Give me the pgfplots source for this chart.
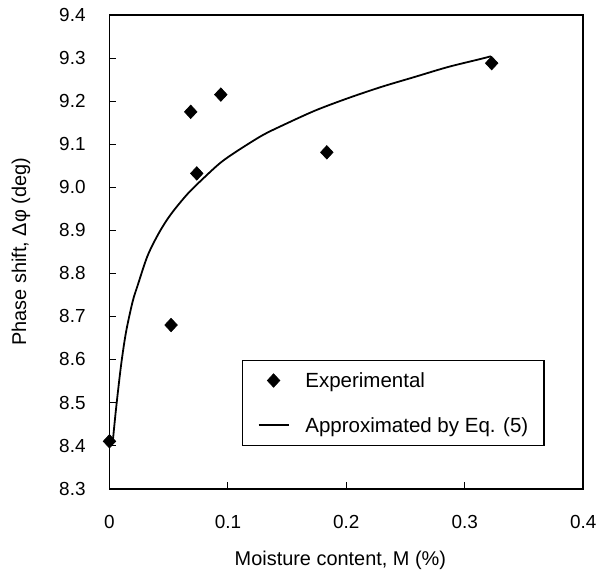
\documentclass[border=0pt]{standalone}
\usepackage{fontspec}
\setmainfont{Liberation Sans}
\usepackage{pgfplots}
\pgfplotsset{compat=1.18}
\pgfplotsset{
  markleg/.style={legend image code/.code={\path (0pt,0pt) (15pt,0pt); \draw[##1] plot coordinates {(7.5pt,0pt)};}},
  lineleg/.style={legend image code/.code={\draw[##1] (0pt,0pt) -- (15pt,0pt);}},
}
\begin{document}
\begin{tikzpicture}
\begin{axis}[
  scale only axis, width=238pt, height=238pt,
  xmin=0, xmax=0.4, ymin=8.3, ymax=9.4,
  axis line style={line width=0.9pt},
  tick align=inside, tick pos=left,
  major tick length=3.5pt,
  tick style={line width=0.5pt, black},
  xtick={0,0.1,0.2,0.3,0.4},
  xticklabels={0,0.1,0.2,0.3,0.4},
  ytick={8.3,8.4,8.5,8.6,8.7,8.8,8.9,9.0,9.1,9.2,9.3,9.4},
  yticklabels={8.3,8.4,8.5,8.6,8.7,8.8,8.9,9.0,9.1,9.2,9.3,9.4},
  /pgf/number format/assume math mode=true,
  tick label style={font=\fontsize{9.5pt}{11pt}\selectfont},
  xticklabel style={anchor=center, yshift=-16.5pt},
  yticklabel style={anchor=east, xshift=-8.5pt},
  xlabel={Moisture content, M (\%)},
  ylabel={Phase shift, Δφ (deg)},
  label style={font=\fontsize{10.1pt}{12pt}\selectfont},
  every axis x label/.style={at={(axis description cs:0.4874,-0.151)}, anchor=center},
  every axis y label/.style={at={(axis description cs:-0.187,0.5)}, anchor=center, rotate=90},
  legend cell align=left,
  legend style={at={(axis cs:0.1115,8.599)}, anchor=north west, draw=black, line width=0.7pt,
    font=\fontsize{10.3pt}{12pt}\selectfont, inner xsep=7.8pt, inner ysep=5pt,
    row sep=12.5pt, column sep=8pt,
    nodes={inner sep=0pt, text height=8.7pt, text depth=1.3pt}},
]
\addplot[only marks, mark=diamond*, mark size=3.4pt, mark options={xscale=1.24, fill=black, draw=black, line width=0.3pt}, markleg]
  coordinates {(0,8.41) (0.052,8.68) (0.0686,9.175) (0.0737,9.032) (0.094,9.215) (0.1835,9.081) (0.3227,9.288)};
\addlegendentry{Experimental}
\addplot[black, line width=0.9pt, smooth, no marks, lineleg]
  coordinates {(0.0028,8.410) (0.0056,8.487) (0.0098,8.587) (0.0140,8.664) (0.0196,8.735) (0.0238,8.772)
  (0.0322,8.841) (0.0420,8.895) (0.0518,8.937) (0.0658,8.984) (0.0798,9.022) (0.0938,9.057)
  (0.1078,9.084) (0.1288,9.120) (0.1457,9.143) (0.1737,9.178) (0.2017,9.207) (0.2297,9.233)
  (0.2577,9.256) (0.2857,9.279) (0.3137,9.298) (0.3220,9.304)};
\addlegendentry{Approximated by Eq. (5)}
\end{axis}
\path (current axis.south west) +(-55pt,245.5pt) +(246.5pt,-43pt);
\end{tikzpicture}
\end{document}
